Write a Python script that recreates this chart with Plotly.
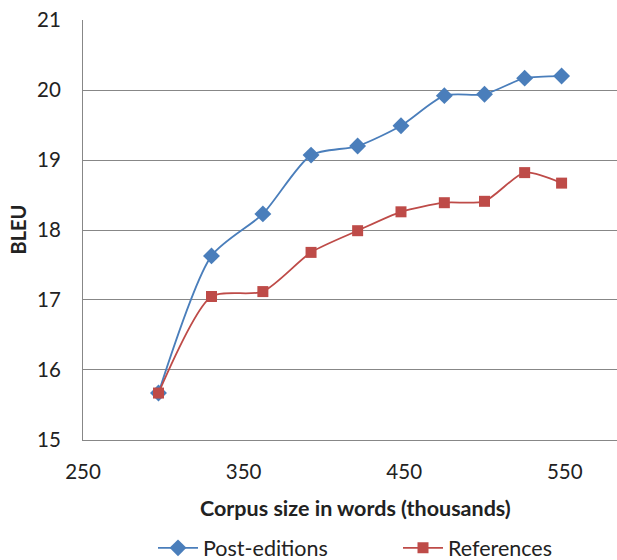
import plotly.graph_objects as go

corpus_size = [297, 330, 362, 392, 421, 448, 475, 500, 525, 548]
post_editions = [15.67, 17.63, 18.23, 19.07, 19.20, 19.49, 19.92, 19.94, 20.17, 20.20]
references = [15.67, 17.05, 17.12, 17.68, 17.99, 18.26, 18.39, 18.41, 18.82, 18.67]
x_ticks = [250, 350, 450, 550]
y_ticks = [15, 16, 17, 18, 19, 20, 21]

FONT = "Lato"
BLUE = "#4A7EBB"
RED = "#BE4B48"
GRID = "#878787"
TXT = "#222222"

fig = go.Figure()
fig.add_trace(go.Scatter(
    x=corpus_size, y=post_editions, name="Post-editions",
    mode="lines+markers",
    line=dict(color=BLUE, width=1.8, shape="spline", smoothing=0.7),
    marker=dict(symbol="diamond", size=13, color=BLUE),
))
fig.add_trace(go.Scatter(
    x=corpus_size, y=references, name="References",
    mode="lines+markers",
    line=dict(color=RED, width=1.8, shape="spline", smoothing=0.7),
    marker=dict(symbol="square", size=11, color=RED),
))

fig.update_layout(
    width=617, height=560,
    margin=dict(l=83, r=0, t=19.5, b=120, autoexpand=False),
    paper_bgcolor="white", plot_bgcolor="white",
    font=dict(family=FONT, size=20, color=TXT),
    showlegend=True,
    legend=dict(orientation="h", x=(153 - 83) / 534, xanchor="left", y=-(548 - 440) / 420.5,
                yanchor="middle", font=dict(family=FONT, size=21.5, color=TXT),
                itemwidth=40, entrywidth=190, entrywidthmode="pixels",
                bgcolor="rgba(0,0,0,0)"),
    xaxis=dict(
        range=[250, 582.5], tickvals=x_ticks, ticktext=[str(v) for v in x_ticks],
        showgrid=False, zeroline=False,
        showline=True, linecolor=GRID, linewidth=1.2,
        ticks="outside", ticklen=13, tickcolor="rgba(0,0,0,0)",
        tickfont=dict(family=FONT, size=20.5, color=TXT),
        automargin=False,
    ),
    yaxis=dict(
        range=[14.999, 21.001], tickvals=y_ticks,
        showgrid=True, gridcolor=GRID, gridwidth=1.2, zeroline=False,
        showline=True, linecolor=GRID, linewidth=1.2,
        ticks="outside", ticklen=17, tickcolor="rgba(0,0,0,0)",
        tickfont=dict(family=FONT, size=20.5, color=TXT),
        automargin=False,
    ),
    annotations=[
        dict(text="<b>Corpus size in words (thousands)</b>", xref="paper", yref="paper",
             x=(355 - 83) / 534, y=-(508 - 440) / 420.5, xanchor="center", yanchor="middle",
             showarrow=False, font=dict(family=FONT, size=21.5, color=TXT)),
        dict(text="<b>BLEU</b>", xref="paper", yref="paper", textangle=-90,
             x=-(83 - 17.5) / 534, y=0.5, xanchor="center", yanchor="middle",
             showarrow=False, font=dict(family=FONT, size=20, color=TXT)),
    ],
)

fig.write_html(
    "out.html",
    config={"displayModeBar": False},
    post_script="document.body.style.margin='0';document.body.style.overflow='hidden';",
)
